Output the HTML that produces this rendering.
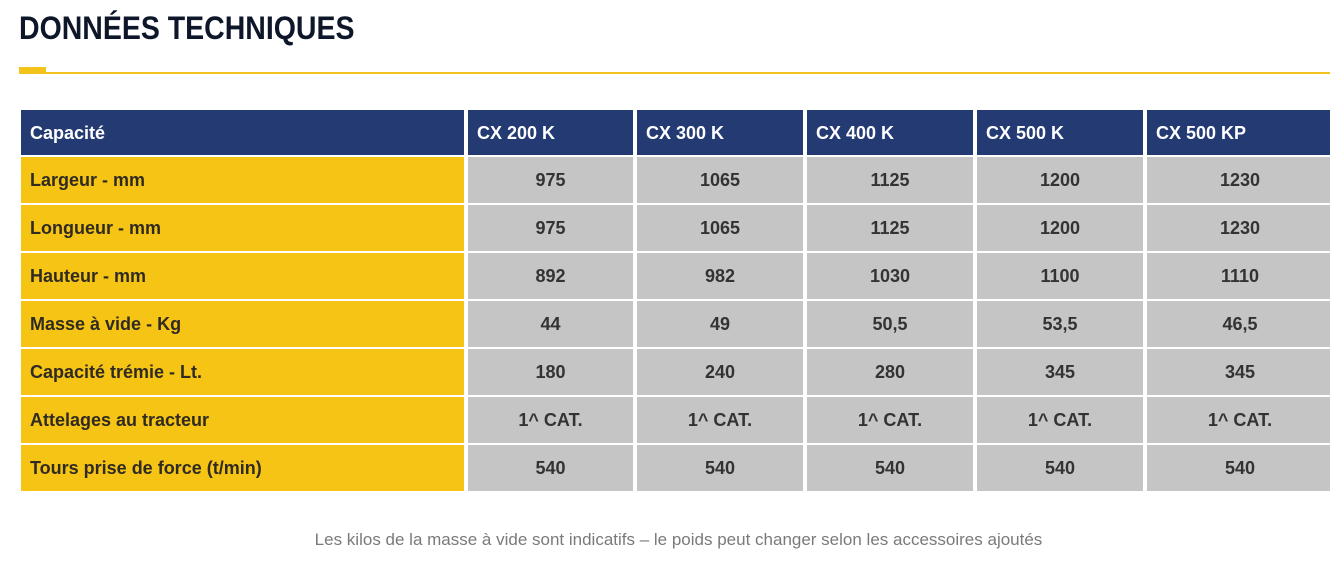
<!DOCTYPE html>
<html>
<head>
<meta charset="utf-8">
<style>
  html, body { margin:0; padding:0; background:#fff; }
  body { width:1330px; height:572px; position:relative; overflow:hidden; font-family:"Liberation Sans", sans-serif; }
  .title { position:absolute; left:19px; top:8px; font-size:32px; font-weight:bold; color:#0e1729; line-height:40px; white-space:nowrap; transform:scaleX(0.89); transform-origin:0 0; }
  .line { position:absolute; left:19px; top:72px; width:1311px; height:2px; background:#f3c31b; }
  .line2 { position:absolute; left:19px; top:67px; width:27px; height:7px; background:#f3c31b; }
  .c { position:absolute; box-sizing:border-box; display:flex; align-items:center; font-size:18px; font-weight:bold; white-space:nowrap; padding-top:1px; }
  .h { background:#243a72; color:#fff; padding-left:9px; }
  .l { background:#f6c415; color:#2f2b22; padding-left:9px; }
  .v { background:#c5c5c5; color:#333; justify-content:center; }
  .foot { position:absolute; left:0; top:530px; width:1357px; text-align:center; font-size:17px; color:#7a7a7a; line-height:20px; white-space:nowrap; }
</style>
</head>
<body>
<div class="title">DONNÉES TECHNIQUES</div>
<div class="line"></div>
<div class="line2"></div>

<!-- header -->
<div class="c h" style="left:21px;top:110px;width:443px;height:45px;">Capacité</div>
<div class="c h" style="left:468px;top:110px;width:165px;height:45px;">CX 200 K</div>
<div class="c h" style="left:637px;top:110px;width:166px;height:45px;">CX 300 K</div>
<div class="c h" style="left:807px;top:110px;width:166px;height:45px;">CX 400 K</div>
<div class="c h" style="left:977px;top:110px;width:166px;height:45px;">CX 500 K</div>
<div class="c h" style="left:1147px;top:110px;width:186px;height:45px;">CX 500 KP</div>

<!-- row 1 -->
<div class="c l" style="left:21px;top:157px;width:443px;height:46px;">Largeur - mm</div>
<div class="c v" style="left:468px;top:157px;width:165px;height:46px;">975</div>
<div class="c v" style="left:637px;top:157px;width:166px;height:46px;">1065</div>
<div class="c v" style="left:807px;top:157px;width:166px;height:46px;">1125</div>
<div class="c v" style="left:977px;top:157px;width:166px;height:46px;">1200</div>
<div class="c v" style="left:1147px;top:157px;width:186px;height:46px;">1230</div>

<!-- row 2 -->
<div class="c l" style="left:21px;top:205px;width:443px;height:46px;">Longueur - mm</div>
<div class="c v" style="left:468px;top:205px;width:165px;height:46px;">975</div>
<div class="c v" style="left:637px;top:205px;width:166px;height:46px;">1065</div>
<div class="c v" style="left:807px;top:205px;width:166px;height:46px;">1125</div>
<div class="c v" style="left:977px;top:205px;width:166px;height:46px;">1200</div>
<div class="c v" style="left:1147px;top:205px;width:186px;height:46px;">1230</div>

<!-- row 3 -->
<div class="c l" style="left:21px;top:253px;width:443px;height:46px;">Hauteur - mm</div>
<div class="c v" style="left:468px;top:253px;width:165px;height:46px;">892</div>
<div class="c v" style="left:637px;top:253px;width:166px;height:46px;">982</div>
<div class="c v" style="left:807px;top:253px;width:166px;height:46px;">1030</div>
<div class="c v" style="left:977px;top:253px;width:166px;height:46px;">1100</div>
<div class="c v" style="left:1147px;top:253px;width:186px;height:46px;">1110</div>

<!-- row 4 -->
<div class="c l" style="left:21px;top:301px;width:443px;height:46px;">Masse à vide - Kg</div>
<div class="c v" style="left:468px;top:301px;width:165px;height:46px;">44</div>
<div class="c v" style="left:637px;top:301px;width:166px;height:46px;">49</div>
<div class="c v" style="left:807px;top:301px;width:166px;height:46px;">50,5</div>
<div class="c v" style="left:977px;top:301px;width:166px;height:46px;">53,5</div>
<div class="c v" style="left:1147px;top:301px;width:186px;height:46px;">46,5</div>

<!-- row 5 -->
<div class="c l" style="left:21px;top:349px;width:443px;height:46px;">Capacité trémie - Lt.</div>
<div class="c v" style="left:468px;top:349px;width:165px;height:46px;">180</div>
<div class="c v" style="left:637px;top:349px;width:166px;height:46px;">240</div>
<div class="c v" style="left:807px;top:349px;width:166px;height:46px;">280</div>
<div class="c v" style="left:977px;top:349px;width:166px;height:46px;">345</div>
<div class="c v" style="left:1147px;top:349px;width:186px;height:46px;">345</div>

<!-- row 6 -->
<div class="c l" style="left:21px;top:397px;width:443px;height:46px;">Attelages au tracteur</div>
<div class="c v" style="left:468px;top:397px;width:165px;height:46px;">1^ CAT.</div>
<div class="c v" style="left:637px;top:397px;width:166px;height:46px;">1^ CAT.</div>
<div class="c v" style="left:807px;top:397px;width:166px;height:46px;">1^ CAT.</div>
<div class="c v" style="left:977px;top:397px;width:166px;height:46px;">1^ CAT.</div>
<div class="c v" style="left:1147px;top:397px;width:186px;height:46px;">1^ CAT.</div>

<!-- row 7 -->
<div class="c l" style="left:21px;top:445px;width:443px;height:46px;">Tours prise de force (t/min)</div>
<div class="c v" style="left:468px;top:445px;width:165px;height:46px;">540</div>
<div class="c v" style="left:637px;top:445px;width:166px;height:46px;">540</div>
<div class="c v" style="left:807px;top:445px;width:166px;height:46px;">540</div>
<div class="c v" style="left:977px;top:445px;width:166px;height:46px;">540</div>
<div class="c v" style="left:1147px;top:445px;width:186px;height:46px;">540</div>

<div class="foot">Les kilos de la masse à vide sont indicatifs – le poids peut changer selon les accessoires ajoutés</div>
</body>
</html>
